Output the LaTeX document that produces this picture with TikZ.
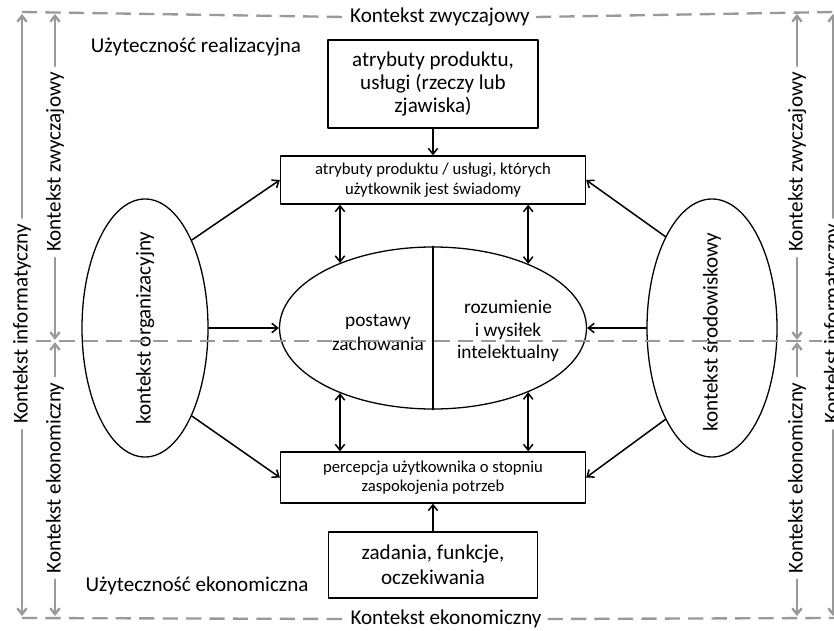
\documentclass[tikz,border=0pt]{standalone}
\usepackage{fontspec}
\setmainfont{Carlito}
\usetikzlibrary{arrows.meta,shapes.geometric}

\begin{document}
\begin{tikzpicture}[x=0.03cm,y=0.03cm,line join=round,line cap=round,>={Straight Barb[length=5pt,width=8pt]},
	box/.style={draw,line width=1.1pt,inner sep=0pt,align=center},
	oval/.style={draw,ellipse,line width=1.1pt,inner sep=0pt},
	big/.style={font=\fontsize{18}{19.6}\selectfont},
	small/.style={font=\fontsize{14.2}{16.6}\selectfont},
	lnk/.style={->,line width=1.3pt},
	ctx/.style={draw=black!40,line width=2pt},
	ctxdash/.style={ctx,line cap=butt,dash pattern=on 13pt off 7pt},
	ctxlbl/.style={font=\fontsize{18}{20}\selectfont,inner sep=5pt}]
	\useasboundingbox (0,0) rectangle (834,630);
	% rama kontekstow
	\coordinate (cNW) at (22,618); \coordinate (cNE) at (834,618);
	\coordinate (cSW) at (22,12); \coordinate (cSE) at (834,12);
	\coordinate (mW) at (36,289); \coordinate (mE) at (822,289);
	\node[ctxlbl] (zwyT) at (440,613) {Kontekst zwyczajowy};
	\node[ctxlbl] (ekoB) at (446,11) {Kontekst ekonomiczny};
	\draw[ctxdash] (cNW) -- (zwyT.west); \draw[ctxdash] (zwyT.east) -- (cNE);
	\draw[ctxdash] (cSW) -- (ekoB.west); \draw[ctxdash] (ekoB.east) -- (cSE);
	\foreach \xo/\xi/\s in {22/55/L,833/797/R}{
		\coordinate (to\s) at (\xo,616); \coordinate (bo\s) at (\xo,14);
		\coordinate (ti\s) at (\xi,616); \coordinate (mi\s) at (\xi,289); \coordinate (bi\s) at (\xi,14);
		\node[ctxlbl,rotate=90] (inf\s) at (\xo,306) {Kontekst informatyczny};
		\node[ctxlbl,rotate=90] (zwy\s) at (\xi,468) {Kontekst zwyczajowy};
		\node[ctxlbl,rotate=90] (eko\s) at (\xi,152) {Kontekst ekonomiczny};
		\draw[ctx,->] (inf\s.east) -- (to\s);
		\draw[ctx,->] (inf\s.west) -- (bo\s);
		\draw[ctx,->] (zwy\s.east) -- (ti\s);
		\draw[ctx,->,shorten >=1pt] (zwy\s.west) -- (mi\s);
		\draw[ctx,->,shorten >=1pt] (eko\s.east) -- (mi\s);
		\draw[ctx,->] (eko\s.west) -- (bi\s);
	}
	\node[big] (realiz) at (196,583) {Użyteczność realizacyjna};
	\node[big] (ekonom) at (197,44) {Użyteczność ekonomiczna};
	% elementy modelu
	\node[box,big,minimum width=6.3cm,minimum height=2.64cm] (attr) at (433,546) {atrybuty produktu,\\usługi (rzeczy lub\\zjawiska)};
	\node[box,small,minimum width=9.15cm,minimum height=1.44cm] (aware) at (433,450) {atrybuty produktu / usługi, których\\użytkownik jest świadomy};
	\node[oval,minimum width=9.21cm,minimum height=4.86cm] (core) at (433,302) {};
	\node[align=center,font=\fontsize{16.5}{20.5}\selectfont] (attitude) at (378,298) {postawy\\zachowania};
	\node[align=center,font=\fontsize{16.5}{19.2}\selectfont] (intellect) at (508,299) {rozumienie\\i wysiłek\\intelektualny};
	\node[box,small,minimum width=9.15cm,minimum height=1.53cm] (perc) at (433,152.5) {percepcja użytkownika o stopniu\\zaspokojenia potrzeb};
	\node[box,font=\fontsize{18}{21}\selectfont,minimum width=6.27cm,minimum height=1.98cm] (tasks) at (433,65) {zadania, funkcje,\\oczekiwania};
	\node[oval,minimum width=3.78cm,minimum height=7.74cm] (org) at (145,302) {};
	\node[big,rotate=90] (orgtxt) at (145,302) {kontekst organizacyjny};
	\node[oval,minimum width=3.9cm,minimum height=7.74cm] (env) at (712,302) {};
	\node[big,rotate=90] (envtxt) at (712,298) {kontekst środowiskowy};
	\draw[line width=1.1pt] (core.north) -- (core.south);
	% polaczenia
	\draw[lnk] (attr) -- (aware);
	\draw[lnk] (tasks) -- (perc);
	\draw[lnk,<->] (aware.south -| core.145) -- (core.145);
	\draw[lnk,<->] (aware.south -| core.34) -- (core.34);
	\draw[lnk,<->] (core.-145) -- (perc.north -| core.-145);
	\draw[lnk,<->] (core.-34) -- (perc.north -| core.-34);
	\draw[lnk] (org.62) -- (aware.west);
	\draw[lnk] (org) -- (core);
	\draw[lnk] (org.-62) -- (perc.west);
	\draw[lnk] (env.117) -- (aware.east);
	\draw[lnk] (env) -- (core);
	\draw[lnk] (env.-117) -- (perc.east);
	\draw[ctxdash] (mW) -- (mE);
\end{tikzpicture}
\end{document}
